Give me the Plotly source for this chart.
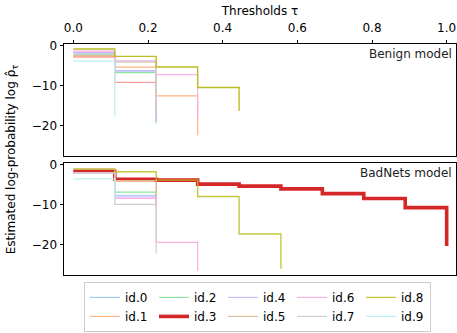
import plotly.graph_objects as go

# ---------------- data ----------------
thresholds = [0.0, 0.111, 0.222, 0.333, 0.444, 0.556, 0.667, 0.778, 0.889, 1.0]
names = ["id.0", "id.1", "id.2", "id.3", "id.4", "id.5", "id.6", "id.7", "id.8", "id.9"]

# Benign model: estimated log-probability at each threshold
benign_id0 = [-1.9, -6.2, -19.0]
benign_id1 = [-2.6, -5.3, -12.5, -22.4]
benign_id2 = [-2.2, -6.7, -19.4]
benign_id3 = [-2.8, -9.1, -14.0]
benign_id4 = [-1.6, -6.3, -18.8]
benign_id5 = [-2.4, -4.0, -17.0]
benign_id6 = [-1.3, -3.7, -7.2, -18.0]
benign_id7 = [-2.0, -3.9, -16.0]
benign_id8 = [-0.75, -2.6, -5.25, -10.4, -16.3]
benign_id9 = [-3.8, -17.6]

# BadNets model
badnets_id0 = [-1.8, -7.6, -10.5]
badnets_id1 = [-1.5, -4.1, -9.0]
badnets_id2 = [-1.7, -6.8, -10.0]
badnets_id3 = [-1.6, -3.6, -3.8, -4.8, -5.3, -6.0, -7.2, -8.4, -10.7, -20.3]
badnets_id4 = [-1.9, -8.0, -10.2]
badnets_id5 = [-1.0, -3.9, -9.5]
badnets_id6 = [-1.9, -8.4, -19.4, -26.6]
badnets_id7 = [-2.0, -9.9, -22.2]
badnets_id8 = [-1.05, -1.7, -3.8, -7.9, -17.3, -26.0]
badnets_id9 = [-3.5, -9.0]

y_ticks = [0, -10, -20]
x_ticks = [0.0, 0.2, 0.4, 0.6, 0.8, 1.0]

benign = [benign_id0, benign_id1, benign_id2, benign_id3, benign_id4,
          benign_id5, benign_id6, benign_id7, benign_id8, benign_id9]
badnets = [badnets_id0, badnets_id1, badnets_id2, badnets_id3, badnets_id4,
           badnets_id5, badnets_id6, badnets_id7, badnets_id8, badnets_id9]

# ---------------- styles ----------------
pastel = ['#a1c9f4', '#ffb482', '#8de5a1', '#ff9f9b', '#d0bbff',
          '#debb9b', '#fab0e4', '#cfcfcf', '#bcbd22', '#b9f2f0']
bad_colors = list(pastel)
bad_colors[3] = '#d62728'

def width_for(i, panel):
    if panel == 'bad' and i == 3:
        return 3.6
    if i == 8:
        return 1.4
    return 1.2

fig = go.Figure()
FONT = "DejaVu Sans"

for i, vals in enumerate(benign):
    fig.add_trace(go.Scatter(
        x=thresholds[:len(vals)], y=vals, mode='lines', line_shape='hv',
        line=dict(color=pastel[i], width=width_for(i, 'benign')),
        name=names[i], showlegend=False, xaxis='x', yaxis='y',
        hoverinfo='skip'))

for i, vals in enumerate(badnets):
    fig.add_trace(go.Scatter(
        x=thresholds[:len(vals)], y=vals, mode='lines', line_shape='hv',
        line=dict(color=bad_colors[i], width=width_for(i, 'bad')),
        opacity=0.85 if i == 8 else 1.0,
        name=names[i], showlegend=True, xaxis='x2', yaxis='y2',
        legendrank=(i % 2) * 5 + i // 2, hoverinfo='skip'))

yrange = [-27.6, 0.5]
xrange = [-0.025, 1.025]
axis_common = dict(showline=True, linecolor='black', linewidth=1, mirror=True,
                   showgrid=False, zeroline=False,
                   tickfont=dict(family=FONT, size=12, color='black'))

fig.update_layout(
    width=457, height=333,
    margin=dict(l=64, r=1, t=44, b=52),
    paper_bgcolor='white', plot_bgcolor='white',
    font=dict(family=FONT, size=12, color='black'),
    xaxis=dict(domain=[0, 1], anchor='y', side='top', range=xrange,
               tickvals=x_ticks, tickformat='.1f', ticks='outside',
               ticklen=3.5, tickcolor='black', ticklabelstandoff=3,
               title=dict(text='Thresholds τ', font=dict(family=FONT, size=12), standoff=2),
               **axis_common),
    yaxis=dict(domain=[0.515, 1], anchor='x', range=yrange, tickvals=y_ticks,
               ticks='outside', ticklen=3.5, tickcolor='black', **axis_common),
    xaxis2=dict(domain=[0, 1], anchor='y2', range=xrange, matches='x',
                showticklabels=False, ticks='', **axis_common),
    yaxis2=dict(domain=[0, 0.485], anchor='x2', range=yrange, tickvals=y_ticks,
                ticks='outside', ticklen=3.5, tickcolor='black', **axis_common),
    legend=dict(orientation='h', x=0.051, xanchor='left', y=-0.03, yanchor='top',
                bordercolor='#cccccc', borderwidth=1, bgcolor='white',
                font=dict(family=FONT, size=12), itemwidth=30,
                entrywidth=24, tracegroupgap=0),
    annotations=[
        dict(text='Benign model', xref='paper', yref='paper', x=0.995, y=0.955,
             xanchor='right', yanchor='middle', showarrow=False,
             font=dict(family=FONT, size=12, color='#222')),
        dict(text='BadNets model', xref='paper', yref='paper', x=0.995, y=0.44,
             xanchor='right', yanchor='middle', showarrow=False,
             font=dict(family=FONT, size=12, color='#222')),
        dict(text='Estimated log-probability log ρ̂<sub>τ</sub>', xref='paper', yref='paper',
             x=-0.133, y=0.5, xanchor='center', yanchor='middle', textangle=-90,
             showarrow=False, font=dict(family=FONT, size=12, color='black')),
    ],
)

fig.write_html(
    "out.html",
    config={'displayModeBar': False, 'staticPlot': True},
    post_script="document.body.style.margin='0';document.body.style.overflow='hidden';",
)
